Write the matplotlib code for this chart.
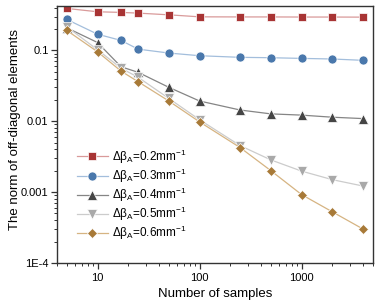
import numpy as np
import matplotlib
matplotlib.use("Agg")
import matplotlib.pyplot as plt

plt.rcParams['font.family'] = ['Liberation Sans', 'DejaVu Sans']
plt.rcParams['mathtext.fontset'] = 'custom'
plt.rcParams['mathtext.rm'] = 'Liberation Sans'

samples = [5, 10, 17, 25, 50, 100, 250, 500, 1000, 2000, 4000]

norm_02 = [0.39, 0.35, 0.343, 0.335, 0.317, 0.297, 0.296, 0.296, 0.295, 0.295, 0.294]
norm_03 = [0.273, 0.169, 0.138, 0.104, 0.0916, 0.084, 0.0797, 0.0787, 0.077, 0.0755, 0.0723]
norm_04 = [0.208, 0.129, 0.0587, 0.049, 0.0301, 0.0193, 0.0144, 0.0127, 0.0122, 0.0114, 0.0109]
norm_05 = [0.215, 0.102, 0.056, 0.0417, 0.021, 0.0105, 0.00453, 0.00285, 0.00198, 0.0015, 0.00122]
norm_06 = [0.191, 0.0955, 0.051, 0.0361, 0.0193, 0.0098, 0.00425, 0.00201, 0.000925, 0.000528, 0.000302]

labels = ['0.2', '0.3', '0.4', '0.5', '0.6']
series = [norm_02, norm_03, norm_04, norm_05, norm_06]
markers = ['s', 'o', '^', 'v', 'D']
mcolors = ['#a83434', '#4a78ac', '#454545', '#a9a9a9', '#a87a38']
lcolors = ['#d99a9a', '#a3bedc', '#858585', '#cccccc', '#d6b482']
msizes = [6, 6.5, 6.5, 6.5, 5.5]

fig = plt.figure(figsize=(3.82, 3.08), dpi=100)
ax = fig.add_axes([0.149, 0.146, 0.827, 0.834])

for y, lab, m, mc, lc, ms in zip(series, labels, markers, mcolors, lcolors, msizes):
    ax.plot(samples, y, color=lc, lw=0.9, marker=m, ms=ms, mfc=mc, mec='white',
            mew=0.5, label='Δβ$_\\mathregular{A}$=' + lab + 'mm$^\\mathregular{-1}$')

ax.set_xscale('log')
ax.set_yscale('log')
ax.set_xlim(4.0, 5000)
ax.set_ylim(1e-4, 0.42)
ax.set_yticks([1e-4, 1e-3, 1e-2, 1e-1])
ax.set_yticklabels(['1E-4', '0.001', '0.01', '0.1'])
ax.set_xticks([10, 100, 1000])
ax.set_xticklabels(['10', '100', '1000'])

for s in ax.spines.values():
    s.set_color('#333333')
    s.set_linewidth(1.0)
ax.tick_params(which='major', direction='out', length=4, width=0.9, labelsize=8, colors='#333333', labelcolor='black')
ax.tick_params(which='minor', direction='out', length=2.5, width=0.7, colors='#333333')
ax.tick_params(axis='x', pad=3)
ax.tick_params(axis='y', pad=2)

ax.set_xlabel('Number of samples', fontsize=9.5, labelpad=4)
ax.set_ylabel('The norm of off-diagonal elements', fontsize=9.5, labelpad=3)
ax.yaxis.set_label_coords(-0.115, 0.52)

ax.legend(loc='lower left', bbox_to_anchor=(0.03, 0.04), frameon=False, fontsize=8.5,
          handlelength=2.6, labelspacing=0.08, handletextpad=0.4)

fig.savefig('out.png', dpi=100)
